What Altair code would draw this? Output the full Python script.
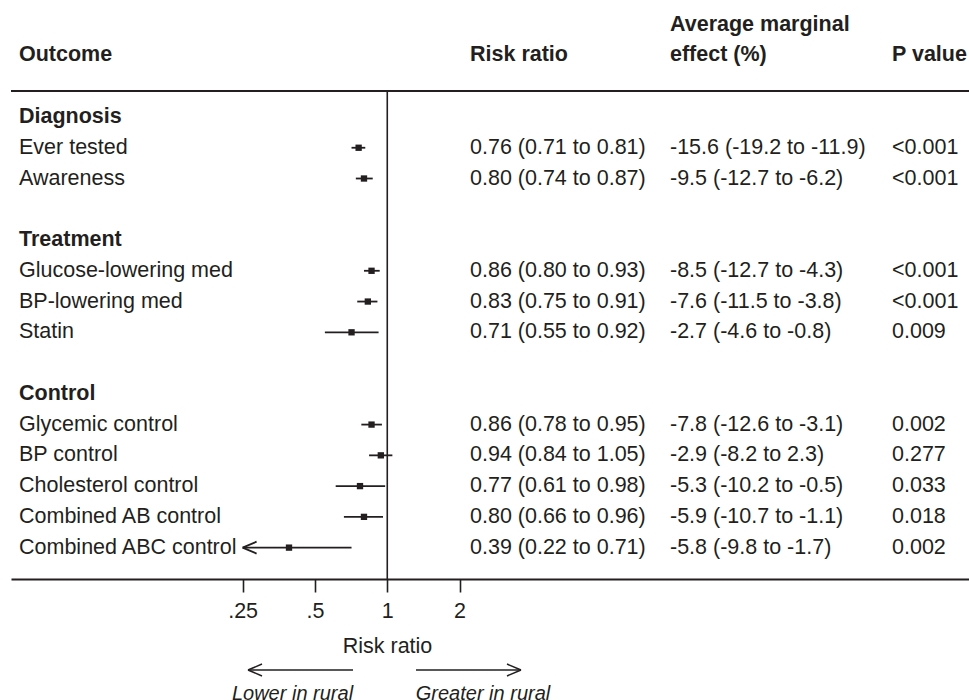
import altair as alt
import pandas as pd

# ---- data -------------------------------------------------------------
labels = ["Diagnosis", "Ever tested", "Awareness", "",
          "Treatment", "Glucose-lowering med", "BP-lowering med", "Statin", "",
          "Control", "Glycemic control", "BP control", "Cholesterol control",
          "Combined AB control", "Combined ABC control"]
is_header = [True, False, False, False, True, False, False, False, False,
             True, False, False, False, False, False]
rr = [None, 0.76, 0.80, None, None, 0.86, 0.83, 0.71, None, None,
      0.86, 0.94, 0.77, 0.80, 0.39]
rr_lo = [None, 0.71, 0.74, None, None, 0.80, 0.75, 0.55, None, None,
         0.78, 0.84, 0.61, 0.66, 0.22]
rr_hi = [None, 0.81, 0.87, None, None, 0.93, 0.91, 0.92, None, None,
         0.95, 1.05, 0.98, 0.96, 0.71]
rr_text = ["", "0.76 (0.71 to 0.81)", "0.80 (0.74 to 0.87)", "", "",
           "0.86 (0.80 to 0.93)", "0.83 (0.75 to 0.91)", "0.71 (0.55 to 0.92)", "", "",
           "0.86 (0.78 to 0.95)", "0.94 (0.84 to 1.05)", "0.77 (0.61 to 0.98)",
           "0.80 (0.66 to 0.96)", "0.39 (0.22 to 0.71)"]
ame_text = ["", "-15.6 (-19.2 to -11.9)", "-9.5 (-12.7 to -6.2)", "", "",
            "-8.5 (-12.7 to -4.3)", "-7.6 (-11.5 to -3.8)", "-2.7 (-4.6 to -0.8)", "", "",
            "-7.8 (-12.6 to -3.1)", "-2.9 (-8.2 to 2.3)", "-5.3 (-10.2 to -0.5)",
            "-5.9 (-10.7 to -1.1)", "-5.8 (-9.8 to -1.7)"]
p_text = ["", "<0.001", "<0.001", "", "",
          "<0.001", "<0.001", "0.009", "", "",
          "0.002", "0.277", "0.033", "0.018", "0.002"]
tick_values = [0.25, 0.5, 1, 2]
tick_labels = [".25", ".5", "1", "2"]
x_min_shown = tick_values[0]

# ---- table ------------------------------------------------------------
rows = pd.DataFrame({
    "row": list(range(len(labels))),
    "label": labels,
    "header": is_header,
    "rr": rr, "lo": rr_lo, "hi": rr_hi,
    "rr_text": rr_text, "ame_text": ame_text, "p_text": p_text,
})
est = rows.dropna(subset=["rr"]).copy()
est["lo_plot"] = est["lo"].clip(lower=x_min_shown)
trunc = est[est["lo"] < x_min_shown].copy()

# ---- styling ----------------------------------------------------------
W, H = 958, 488
INK = "#231f20"
FONT = "Liberation Sans"
FS = 21.5

xscale = alt.Scale(type="log", base=2, domain=[0.02717, 263.6], nice=False)
yscale = alt.Scale(domain=[-0.845, 15.02], reverse=True, nice=False, zero=False)

label_expr = "{" + ",".join(f"'{v}':'{l}'" for v, l in zip(tick_values, tick_labels)) + "}[datum.value]"

X_AX = alt.Axis(values=tick_values, labelExpr=label_expr, title="Risk ratio",
                grid=False, domainColor=INK, domainWidth=2, tickColor=INK, tickWidth=1.6,
                tickSize=13, labelPadding=8, labelFont=FONT, labelFontSize=FS,
                labelColor=INK, titleFont=FONT, titleFontSize=FS, titleFontWeight="normal",
                titleColor=INK, titleX=376, titleY=67, titleBaseline="middle",
                titleAlign="center")

base = alt.Chart(est)

# vertical null line at 1
null_line = alt.Chart(pd.DataFrame({"v": [1]})).mark_rule(color=INK, strokeWidth=1.6).encode(
    x=alt.X("v:Q", scale=xscale, axis=X_AX),
    y=alt.value(0), y2=alt.value(H))

# top horizontal rule
top_line = alt.Chart(pd.DataFrame({"v": [1]})).mark_rule(color=INK, strokeWidth=2).encode(
    x=alt.value(0), x2=alt.value(W), y=alt.value(0))

ci = base.mark_rule(color=INK, strokeWidth=1.8).encode(
    x=alt.X("lo_plot:Q", scale=xscale), x2="hi:Q",
    y=alt.Y("row:Q", scale=yscale, axis=None))

pts = base.mark_point(shape="square", filled=True, size=40, color=INK, opacity=1).encode(
    x=alt.X("rr:Q", scale=xscale), y=alt.Y("row:Q", scale=yscale))

arrowhead = alt.Chart(trunc).mark_point(
    shape="M0,0L2,-0.85M0,0L2,0.85", filled=False, size=196, stroke=INK,
    strokeWidth=1.8, opacity=1).encode(
    x=alt.X("lo_plot:Q", scale=xscale), y=alt.Y("row:Q", scale=yscale))


def col_text(field, xpos, weight="normal", flt=None):
    c = alt.Chart(rows)
    if flt is not None:
        c = c.transform_filter(flt)
    return c.mark_text(align="left", baseline="middle", font=FONT, fontSize=FS,
                       color=INK, fontWeight=weight).encode(
        x=alt.value(xpos), y=alt.Y("row:Q", scale=yscale), text=f"{field}:N")


lab_b = col_text("label", 8, "bold", "datum.header")
lab_n = col_text("label", 8, "normal", "!datum.header")
rrt = col_text("rr_text", 459)
amet = col_text("ame_text", 659)
pt = col_text("p_text", 881)

hdr = pd.DataFrame({
    "t": ["Outcome", "Risk ratio", "Average marginal", "effect (%)", "P value"],
    "x": [8, 459, 659, 659, 881],
    "y": [-36, -36, -66, -36, -36],
})
headers = alt.Chart(hdr).mark_text(align="left", baseline="middle", font=FONT,
                                   fontSize=FS, fontWeight="bold", color=INK).encode(
    x=alt.X("x:Q", scale=None), y=alt.Y("y:Q", scale=None), text="t:N")

# direction arrows below the axis
arr = pd.DataFrame({"x1": [237, 405], "x2": [342, 510], "y": [579, 579]})
arrows = alt.Chart(arr).mark_rule(color=INK, strokeWidth=1.5).encode(
    x=alt.X("x1:Q", scale=None), x2="x2:Q", y=alt.Y("y:Q", scale=None))
heads = pd.DataFrame({"x": [237, 510], "y": [579, 579]})
head_l = alt.Chart(heads.iloc[[0]]).mark_point(
    shape="M0,0L2,-0.85M0,0L2,0.85", filled=False, size=196, stroke=INK,
    strokeWidth=1.5, opacity=1).encode(x=alt.X("x:Q", scale=None), y=alt.Y("y:Q", scale=None))
head_r = alt.Chart(heads.iloc[[1]]).mark_point(
    shape="M0,0L-2,-0.85M0,0L-2,0.85", filled=False, size=196, stroke=INK,
    strokeWidth=1.5, opacity=1).encode(x=alt.X("x:Q", scale=None), y=alt.Y("y:Q", scale=None))
dir_txt = pd.DataFrame({"t": ["Lower in rural", "Greater in rural"],
                        "x": [281.5, 472], "y": [603, 603]})
dirs = alt.Chart(dir_txt).mark_text(align="center", baseline="middle", font=FONT,
                                    fontSize=20, fontStyle="italic", color=INK).encode(
    x=alt.X("x:Q", scale=None), y=alt.Y("y:Q", scale=None), text="t:N")

chart = alt.layer(null_line, top_line, ci, pts, arrowhead, lab_b, lab_n, rrt, amet, pt,
                  headers, arrows, head_l, head_r, dirs).properties(
    width=W, height=H,
    padding={"left": 11, "top": 91, "right": 0, "bottom": 121},
    autosize="none",
    background="white",
).configure_view(stroke=None)

chart.save("out.html", embed_options={"renderer": "svg", "actions": False})
